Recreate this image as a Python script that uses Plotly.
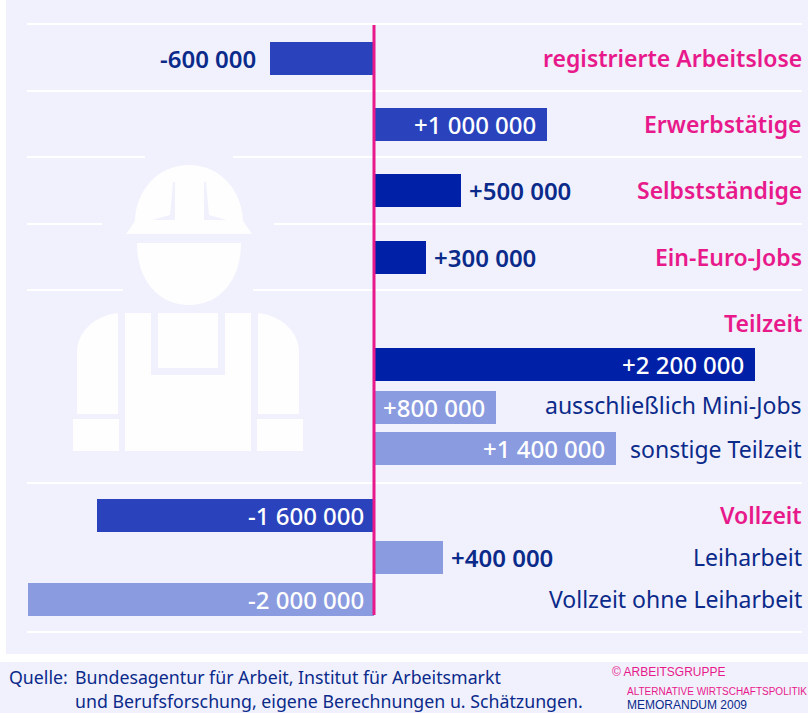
import plotly.graph_objects as go

# ---- data ----
categories = ["registrierte Arbeitslose", "Erwerbstätige", "Selbstständige", "Ein-Euro-Jobs",
              "Teilzeit", "ausschließlich Mini-Jobs", "sonstige Teilzeit",
              "Vollzeit", "Leiharbeit", "Vollzeit ohne Leiharbeit"]
bar_lengths = [-600000, 1000000, 500000, 300000, 2200000, 705000, 1400000, -1600000, 400000, -2000000]
value_labels = ["-600 000", "+1 000 000", "+500 000", "+300 000", "+2 200 000", "+800 000",
                "+1 400 000", "-1 600 000", "+400 000", "-2 000 000"]

# ---- layout and styling ----
row_y = [58, 124, 190, 257, 364, 407, 448, 515, 557, 599]
label_y = [58, 124, 190, 257, 323, 405, 449, 515, 557, 599]
MID, DARK, LIGHT = "#2a43bd", "#0020a8", "#8a9be0"
bar_colors = [MID, MID, DARK, DARK, DARK, LIGHT, LIGHT, MID, LIGHT, LIGHT]
label_inside = [False, True, False, False, True, True, True, True, False, True]
PINK, NAVY, PANEL = "#e8198b", "#0b2a8a", "#f0f1fd"
FONT = "Noto Sans"
PX_PER_UNIT = 173 / 1e6
ZERO = 374
W, H = 808, 713

fig = go.Figure()
fig.add_trace(go.Bar(y=row_y, x=bar_lengths, orientation="h", width=33,
                     marker=dict(color=bar_colors, line=dict(width=0)),
                     hoverinfo="skip", showlegend=False))
fig.add_trace(go.Scatter(x=[None], y=[None], xaxis="x2", yaxis="y", showlegend=False))

shapes = []
def sh(kind, **k):
    shapes.append(dict(type=kind, xref="x2", yref="y", line=dict(width=0), layer="below", **k))

sh("rect", x0=6, x1=808, y0=0, y1=654, fillcolor=PANEL)
sh("rect", x0=0, x1=808, y0=662, y1=713, fillcolor=PANEL)

# white separator lines (broken round the worker figure)
segments = [(27, 802, 24), (27, 802, 91), (27, 145, 157), (233, 802, 157), (27, 102, 224), (274, 802, 224),
            (27, 123, 290), (253, 802, 290), (27, 802, 483), (27, 802, 632)]
for a, b, y in segments:
    shapes.append(dict(type="line", xref="x2", yref="y", x0=a, x1=b, y0=y, y1=y, layer="below",
                       line=dict(color="#ffffff", width=2)))

# worker pictogram
WHITE = "#fefeff"
paths = [
    "M126 234 L135 221 C136 190 158 165 189 165 C220 165 242 190 243 221 L252 234 Z",
    "M137 243 L241 243 C241 280 220 305 189 305 C158 305 137 280 137 243 Z",
    "M125 313 L151 313 L151 375 L225 375 L225 313 L251 313 L251 451 L125 451 Z",
    "M158 313 L218 313 L218 368 L158 368 Z",
    "M118 313 L118 414 L77 414 L77 352 C77 332 95 315 118 313 Z",
    "M258 313 L258 414 L299 414 L299 352 C299 332 281 315 258 313 Z",
    "M73 419 L119 419 L119 451 L73 451 Z",
    "M257 419 L303 419 L303 451 L257 451 Z",
]
for p in paths:
    sh("path", path=p, fillcolor=WHITE)
for p in ["M173 182 L175 182 L175 220 L152 220 L170 215 Z", "M204 182 L206 182 L209 215 L227 220 L204 220 Z"]:
    sh("path", path=p, fillcolor=PANEL)

# zero line
shapes.append(dict(type="line", xref="x2", yref="y", x0=ZERO, x1=ZERO, y0=25, y1=615, layer="above",
                   line=dict(color=PINK, width=3)))

ann = []
def text(x, y, s, size, color, anchor="left", xref="x2", xshift=0, family=FONT, weight=400):
    ann.append(dict(x=x, y=y, xref=xref, yref="y", text=s, showarrow=False, xanchor=anchor, yanchor="middle",
                    xshift=xshift, font=dict(family=family, size=size, color=color, weight=weight)))

for v, lab, inside, y in zip(bar_lengths, value_labels, label_inside, row_y):
    if inside:
        if v > 0:
            text(v, y, lab, 24, "#ffffff", "right", "x", -9, weight=500)
        else:
            text(0, y, lab, 24, "#ffffff", "right", "x", -8, weight=500)
    else:
        if v > 0:
            text(v, y, lab, 24, NAVY, "left", "x", 6, weight=600)
        else:
            text(v, y, lab, 24, NAVY, "right", "x", -12, weight=600)

pink_cats = {"registrierte Arbeitslose", "Erwerbstätige", "Selbstständige", "Ein-Euro-Jobs", "Teilzeit", "Vollzeit"}
for c, y in zip(categories, label_y):
    pink = c in pink_cats
    text(804 if pink else 804, y, c, 23 if pink else 23, PINK if pink else NAVY, "right",
         weight=600 if pink else 400)

# footer
text(7, 677, "Quelle:", 17.75, NAVY)
text(73, 677, "Bundesagentur für Arbeit, Institut für Arbeitsmarkt", 17.75, NAVY)
text(73, 701, "und Berufsforschung, eigene Berechnungen u. Schätzungen.", 17.75, NAVY)
SMALL = "Liberation Sans"
text(610, 672, "© ARBEITSGRUPPE", 12, PINK, family=SMALL)
text(625, 691, "ALTERNATIVE WIRTSCHAFTSPOLITIK", 10, PINK, family=SMALL)
text(625, 705, "MEMORANDUM 2009", 12, NAVY, family=SMALL)

fig.update_layout(
    width=W, height=H, margin=dict(l=0, r=0, t=0, b=0), paper_bgcolor="#ffffff", plot_bgcolor="#ffffff",
    shapes=shapes, annotations=ann, bargap=0,
    xaxis=dict(range=[-ZERO / PX_PER_UNIT, (W - ZERO) / PX_PER_UNIT], visible=False, fixedrange=True),
    xaxis2=dict(range=[0, W], visible=False, overlaying="x", fixedrange=True),
    yaxis=dict(range=[H, 0], visible=False, fixedrange=True),
)
fig.write_html("out.html", config=dict(displayModeBar=False),
               post_script="document.body.style.margin='0';document.documentElement.style.overflow='hidden';window.dispatchEvent(new Event('resize'));")
